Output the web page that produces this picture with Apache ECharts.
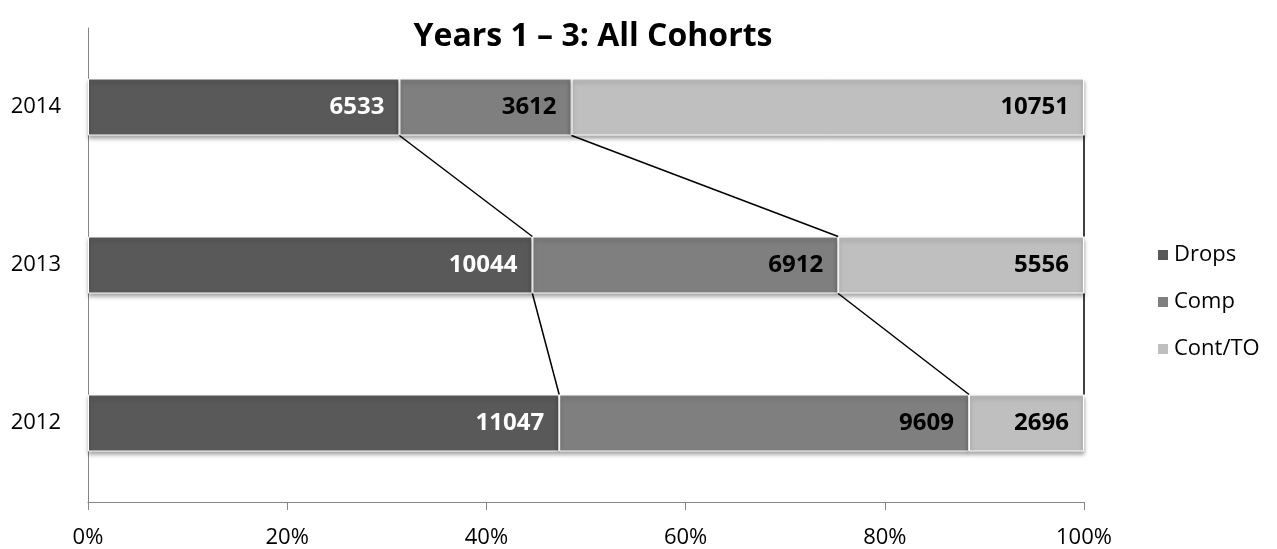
<!DOCTYPE html>
<html>
<head>
<meta charset="utf-8">
<title>Years 1 – 3: All Cohorts</title>
<script src="https://cdn.jsdelivr.net/npm/echarts@6/dist/echarts.min.js"></script>
<style>
  html, body { margin: 0; padding: 0; background: #fff; }
  #chart { width: 1277px; height: 549px; }
</style>
</head>
<body>
<div id="chart"></div>
<script>
// Cohort years, bottom to top
const years = ['2012', '2013', '2014'];
// Student counts per outcome
const drops = [11047, 10044, 6533];
const comp = [9609, 6912, 3612];
const contTO = [2696, 5556, 10751];
const seriesNames = ['Drops', 'Comp', 'Cont/TO'];
const xTicks = [0, 20, 40, 60, 80, 100];

const FONT = '"Open Sans", Lato, sans-serif';
const BAR_WIDTH = 57;
const colors = ['#595959', '#7f7f7f', '#bfbfbf'];
const labelColors = ['#ffffff', '#000000', '#000000'];

const raw = [drops, comp, contTO];
const totals = years.map((_, i) => drops[i] + comp[i] + contTO[i]);
const pct = raw.map(arr => arr.map((v, i) => v / totals[i] * 100));

// Cumulative right edge (percent) of each segment, per year
const cum = raw.map((_, s) => years.map((__, i) => {
  let sum = 0;
  for (let k = 0; k <= s; k++) sum += pct[k][i];
  return Math.min(sum, 100);
}));

const barSeries = seriesNames.map((name, s) => ({
  name: name,
  type: 'bar',
  stack: 'total',
  barWidth: BAR_WIDTH,
  data: pct[s],
  itemStyle: {
    color: colors[s],
    borderColor: '#ffffff',
    borderWidth: 1,
    shadowColor: 'rgba(0,0,0,0.35)',
    shadowBlur: 4,
    shadowOffsetY: 3
  },
  label: {
    show: true,
    position: 'insideRight',
    distance: 15,
    color: labelColors[s],
    fontFamily: FONT,
    fontWeight: 'bold',
    fontSize: 24,
    formatter: p => String(raw[s][p.dataIndex])
  },
  emphasis: { disabled: true },
  z: 2
}));

// Connector lines between the segment ends of adjacent bars
const connectorData = [];
cum.forEach(row => {
  for (let i = 0; i < years.length - 1; i++) {
    connectorData.push([i, row[i], row[i + 1]]);
  }
});

const connectorSeries = {
  name: 'connectors',
  type: 'custom',
  coordinateSystem: 'cartesian2d',
  encode: { x: [1, 2], y: 0 },
  data: connectorData,
  silent: true,
  z: 3,
  renderItem: function (params, api) {
    const i = api.value(0);
    const a = api.coord([api.value(1), i]);
    const b = api.coord([api.value(2), i + 1]);
    const half = BAR_WIDTH / 2;
    return {
      type: 'line',
      shape: { x1: a[0], y1: a[1] - half, x2: b[0], y2: b[1] + half },
      style: { stroke: '#000000', lineWidth: 1.5 }
    };
  }
};

const chart = echarts.init(document.getElementById('chart'), null, { renderer: 'canvas' });
chart.setOption({
  animation: false,
  backgroundColor: '#ffffff',
  title: {
    text: 'Years 1 – 3: All Cohorts',
    left: 588,
    textAlign: 'center',
    top: 16,
    textStyle: { fontFamily: FONT, fontWeight: 'bold', fontSize: 32, color: '#000000' }
  },
  legend: {
    orient: 'vertical',
    left: 1151,
    top: 237,
    data: seriesNames,
    icon: 'rect',
    itemWidth: 12,
    itemHeight: 12,
    itemGap: 21,
    selectedMode: false,
    textStyle: { fontFamily: FONT, fontSize: 22, color: '#000000', lineHeight: 26 }
  },
  grid: { left: 88, right: 193, top: 28, bottom: 47, containLabel: false },
  xAxis: {
    type: 'value',
    min: 0,
    max: 100,
    interval: 20,
    axisLine: { show: true, lineStyle: { color: '#868686', width: 1 } },
    axisTick: { show: true, length: 8, lineStyle: { color: '#868686' } },
    splitLine: { show: false },
    axisLabel: {
      margin: 25,
      fontFamily: FONT,
      fontSize: 22,
      color: '#000000',
      formatter: v => xTicks.indexOf(v) >= 0 ? v + '%' : ''
    }
  },
  yAxis: {
    type: 'category',
    data: years,
    axisLine: { show: true, lineStyle: { color: '#868686', width: 1 } },
    axisTick: { show: false },
    axisLabel: { margin: 27, fontFamily: FONT, fontSize: 22, color: '#000000' }
  },
  series: barSeries.concat([connectorSeries])
});
</script>
</body>
</html>
